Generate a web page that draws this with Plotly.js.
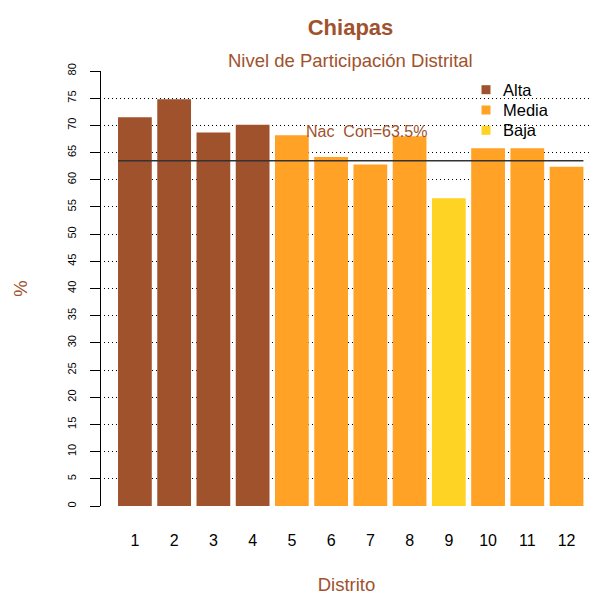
<!DOCTYPE html>
<html>
<head>
<meta charset="utf-8">
<script src="https://cdn.plot.ly/plotly-3.0.1.min.js"></script>
<style>html,body{margin:0;padding:0;background:#fff;}#chart{width:589px;height:595px;}</style>
</head>
<body>
<div id="chart"></div>
<script>
// ---- data ----
var distritos = ['1','2','3','4','5','6','7','8','9','10','11','12'];
var participacion = [71.5, 74.8, 68.7, 70.1, 68.2, 64.2, 62.8, 68.0, 56.6, 65.8, 65.8, 62.4];
var nivel = ['Alta','Alta','Alta','Alta','Media','Media','Media','Media','Baja','Media','Media','Media'];
var niveles = ['Alta','Media','Baja'];
var nacional = 63.5;
var yTicks = [0,5,10,15,20,25,30,35,40,45,50,55,60,65,70,75,80];

// ---- styles ----
var colores = {Alta:'#A0522D', Media:'#FFA226', Baja:'#FFD324'};
var sienna = '#A0522D';
var FONT = 'Liberation Sans, Arial, Helvetica, sans-serif';
var barW = 0.86;
var M = {l: 104, r: 0, t: 71, b: 89};
var PW = 589 - M.l - M.r, PH = 595 - M.t - M.b;
function px2x(p){ return (p - M.l) / PW; }
function px2y(p){ return 1 - (p - M.t) / PH; }

var xPos = distritos.map(function(d, i){ return i + 1; });

var traces = [{
  type: 'bar',
  x: xPos,
  y: participacion,
  width: barW,
  marker: {color: nivel.map(function(n){ return colores[n]; }), line: {width: 0}},
  showlegend: false,
  hoverinfo: 'skip'
}];

var shapes = [{
  type: 'line', xref: 'x', yref: 'y',
  x0: xPos[0] - barW/2, x1: xPos[xPos.length-1] + barW/2,
  y0: nacional, y1: nacional,
  line: {color: '#333333', width: 1.5}
}];

var annotations = [
  {
    text: 'Nivel de Participación Distrital',
    xref: 'paper', yref: 'paper',
    x: px2x(350.5), y: px2y(60),
    xanchor: 'center', yanchor: 'middle', showarrow: false,
    font: {size: 18.5, color: sienna}
  },
  {
    text: 'Nac\u00a0 Con=' + nacional.toFixed(1) + '%',
    xref: 'x', yref: 'y',
    x: 6.9, y: 68.8,
    xanchor: 'center', yanchor: 'middle', showarrow: false,
    font: {size: 16, color: sienna}
  }
];

// legend (key) drawn as squares + labels
var legX = 486, legTextX = 501, legY0 = 89.7, legDY = 20.3;
niveles.forEach(function(n, i){
  var cy = legY0 + i * legDY;
  shapes.push({
    type: 'rect', xref: 'paper', yref: 'paper',
    xsizemode: 'pixel', ysizemode: 'pixel',
    xanchor: px2x(legX), yanchor: px2y(cy),
    x0: -4.5, x1: 4.5, y0: -4.5, y1: 4.5,
    fillcolor: colores[n], line: {width: 0}
  });
  annotations.push({
    text: n, xref: 'paper', yref: 'paper',
    x: px2x(legTextX), y: px2y(cy),
    xanchor: 'left', yanchor: 'middle', showarrow: false,
    font: {size: 16.5, color: '#000'}
  });
});

var layout = {
  width: 589, height: 595,
  margin: {l: M.l, r: M.r, t: M.t, b: M.b, pad: 0},
  paper_bgcolor: '#ffffff', plot_bgcolor: '#ffffff',
  font: {family: FONT, color: '#000'},
  showlegend: false,
  barmode: 'overlay',
  title: {
    text: '<b>Chiapas</b>',
    font: {size: 22, color: sienna, family: FONT},
    xref: 'container', x: 350.5/589, xanchor: 'center',
    yref: 'container', y: 1 - 27/595, yanchor: 'middle'
  },
  xaxis: {
    range: [0.2125, 12.572],
    tickmode: 'array', tickvals: xPos, ticktext: distritos,
    tickfont: {size: 16, color: '#000'},
    ticks: '', showline: false, showgrid: false, zeroline: false,
    ticklabelstandoff: 23,
    title: {text: 'Distrito', font: {size: 18.5, color: sienna}, standoff: 32},
    automargin: false, fixedrange: true
  },
  yaxis: {
    range: [0, 80],
    tickmode: 'array', tickvals: yTicks, ticktext: yTicks.map(String),
    tickangle: -90,
    tickfont: {size: 11, color: '#000'},
    ticks: 'outside', ticklen: 10, tickwidth: 1, tickcolor: '#000',
    showline: true, linecolor: '#000', linewidth: 1,
    anchor: 'free', position: 0, shift: -4,
    showgrid: true, gridcolor: '#000', gridwidth: 1, griddash: '1px,3px',
    zeroline: false,
    ticklabelstandoff: 10,
    title: {text: '%', font: {size: 18.5, color: sienna}, standoff: 32},
    automargin: false, fixedrange: true
  },
  shapes: shapes,
  annotations: annotations
};

Plotly.newPlot('chart', traces, layout, {staticPlot: true, displayModeBar: false});
</script>
</body>
</html>
